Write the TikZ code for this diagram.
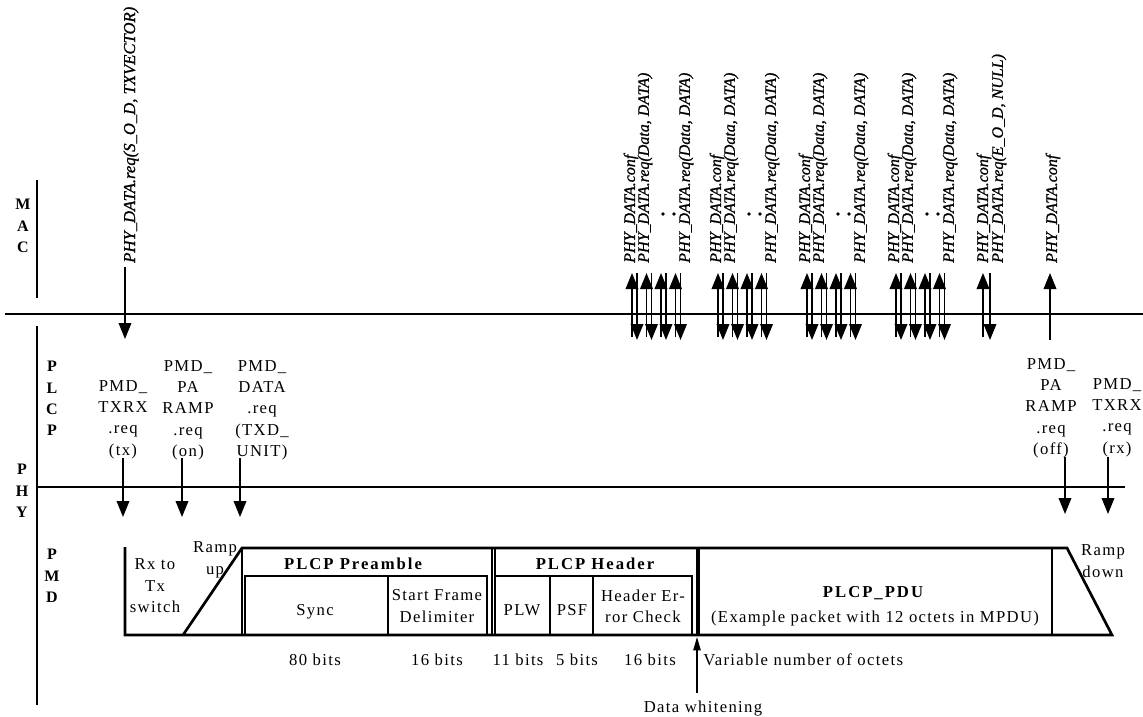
\documentclass[tikz,border=0pt]{standalone}
\usepackage{fontspec}
\setmainfont{Liberation Serif}
\newfontfamily\rmsp{Liberation Serif}[LetterSpace=8]
\newfontfamily\bfsp{Liberation Serif Bold}[LetterSpace=12]
\newfontfamily\itlab{Liberation Serif Italic}[FakeBold=1]
\newfontfamily\laybf{Liberation Serif Bold}
\usetikzlibrary{arrows.meta}
\tikzset{
  lay/.style={font=\laybf\fontsize{12}{16}\selectfont, align=center, inner sep=0pt, anchor=north},
  txt/.style={font=\rmsp\fontsize{12.5}{16}\selectfont, align=center, inner sep=0pt},
  ttl/.style={font=\bfsp\fontsize{12.5}{16}\selectfont, inner sep=0pt, anchor=base},
  vlab/.style={font=\itlab\fontsize{12}{14}\selectfont, rotate=90, anchor=west, inner sep=0pt},
  arr/.style={line width=1.1pt, -{Triangle[length=12pt,width=9.5pt]}},
  warr/.style={line width=1.1pt, -{Triangle[length=10pt,width=5.5pt]}},
  frame/.style={line width=2pt, line join=miter},
  fine/.style={line width=1.1pt},
  sep/.style={line width=1.6pt}
}
\begin{document}
\begin{tikzpicture}[x=0.75pt,y=-0.75pt]
\useasboundingbox (0,0) rectangle (1143,717);

% layer boundary lines
\coordinate (macL) at (5,314);   \coordinate (macR) at (1143,314);
\coordinate (pmdL) at (37,487);  \coordinate (pmdR) at (1125,487);
\coordinate (v1t) at (37,180);   \coordinate (v1b) at (37,298);
\coordinate (v2t) at (37,326);   \coordinate (v2b) at (37,705);
\draw[line width=2.2pt] (macL) -- (macR);
\draw[sep] (pmdL) -- (pmdR);
\draw[sep] (v1t) -- (v1b);
\draw[sep] (v2t) -- (v2b);

% layer letters
\node[lay] (mac) at (23,199) {M\\A\\C};
\node[lay] (plcp) at (52,361) {P\\L\\C\\P};
\node[lay] (phy) at (22,464) {P\\H\\Y};
\node[lay] (pmd) at (52,549) {P\\M\\D};

% first MAC request
\node[vlab, font=\itlab\fontsize{12.5}{14}\selectfont] (req0) at (131,263) {PHY\_DATA.req(S\_O\_D, TXVECTOR)};
\coordinate (a0s) at (125,267); \coordinate (a0e) at (125,339);
\draw[arr] (a0s) -- (a0e);

% clusters of data requests / confirms
\foreach \g/\u in {1/632, 2/718, 3/807, 4/896} {
  \foreach \k in {0,1,2,3} {
    \pgfmathsetmacro\xu{\u+14.5*\k}
    \pgfmathsetmacro\xd{\u+5+14.5*\k}
    \coordinate (u\g\k s) at (\xu,337); \coordinate (u\g\k e) at (\xu,273);
    \coordinate (d\g\k s) at (\xd,273); \coordinate (d\g\k e) at (\xd,340);
    \draw[arr] (u\g\k s) -- (u\g\k e);
    \draw[arr] (d\g\k s) -- (d\g\k e);
  }
  \node[vlab] (c\g) at (\u-1,263) {PHY\_DATA.conf};
  \node[vlab] (r\g) at (\u+13,263) {PHY\_DATA.req(Data, DATA)};
  \node[vlab] (l\g) at (\u+54,263) {PHY\_DATA.req(Data, DATA)};
  \fill (\u+31,214) circle (1.4pt);
  \fill (\u+42,214) circle (1.4pt);
}
% end of data
\coordinate (u5s) at (983,337); \coordinate (u5e) at (983,273);
\coordinate (d5s) at (990,273); \coordinate (d5e) at (990,340);
\draw[arr] (u5s) -- (u5e);
\draw[arr] (d5s) -- (d5e);
\node[vlab] (c5) at (984,263) {PHY\_DATA.conf};
\node[vlab] (r5) at (999,263) {PHY\_DATA.req(E\_O\_D, NULL)};
\coordinate (u6s) at (1050,340); \coordinate (u6e) at (1050,273);
\draw[arr] (u6s) -- (u6e);
\node[vlab] (c6) at (1053,263) {PHY\_DATA.conf};

% PLCP -> PMD primitives
\node[txt, anchor=north] (pA) at (123,380) {PMD\_\\TXRX\\.req\\(tx)};
\node[txt, anchor=north] (pB) at (188,360) {PMD\_\\PA\\RAMP\\.req\\(on)};
\node[txt, anchor=north] (pC) at (262,360) {PMD\_\\DATA\\.req\\(TXD\_\\UNIT)};
\node[txt, anchor=north] (pD) at (1051,358) {PMD\_\\PA\\RAMP\\.req\\(off)};
\node[txt, anchor=north] (pE) at (1117,378) {PMD\_\\TXRX\\.req\\(rx)};
\coordinate (aAs) at (123,458); \coordinate (aAe) at (123,517);
\coordinate (aBs) at (182,458); \coordinate (aBe) at (182,517);
\coordinate (aCs) at (240,458); \coordinate (aCe) at (240,517);
\coordinate (aDs) at (1065,457); \coordinate (aDe) at (1065,514);
\coordinate (aEs) at (1108,457); \coordinate (aEe) at (1108,514);
\foreach \n in {A,B,C,D,E} { \draw[arr] (a\n s) -- (a\n e); }

% frame outline
\draw[frame] (125,547) -- (125,635) -- (1112,635) -- (1067,548) -- (242,548) -- (183,635);
% preamble
\draw[frame] (242,548) rectangle (492,635);
\draw[fine] (245,576) rectangle (487,635);
\draw[fine] (388,576) -- (388,635);
% header
\draw[frame] (495,548) rectangle (697,635);
\draw[fine] (495,576) rectangle (692,635);
\draw[fine] (550,576) -- (550,635);
\draw[fine] (593,576) -- (593,635);
% PDU
\draw[frame] (699,548) rectangle (1052,635);

% frame texts
\node[txt, anchor=north] (rxtx) at (155,558.5) {Rx to\\Tx\\switch};
\node[txt, anchor=north] (rampu) at (215,541.5) {Ramp\\up};
\node[ttl] (pre) at (353,569.5) {PLCP Preamble};
\node[txt, anchor=base] (sync) at (315,615) {Sync};
\node[txt, anchor=north] (sfd) at (437,589.5) {Start Frame\\Delimiter};
\node[ttl] (hdr) at (595,569.5) {PLCP Header};
\node[txt, anchor=base] (plw) at (522,615) {PLW};
\node[txt, anchor=base] (psf) at (572,615) {PSF};
\node[txt, anchor=north] (hec) at (643,589.5) {Header Er-\\ror Check};
\node[ttl] (pdu) at (873,597.5) {PLCP\_PDU};
\node[txt, anchor=base] (ex) at (875,622) {(Example packet with 12 octets in MPDU)};
\node[txt, anchor=north] (rampd) at (1103,544.5) {Ramp\\down};

% bit counts
\node[txt, anchor=base] (b1) at (315,665.5) {80 bits};
\node[txt, anchor=base] (b2) at (437,665.5) {16 bits};
\node[txt, anchor=base] (b3) at (518,665.5) {11 bits};
\node[txt, anchor=base] (b4) at (577,665.5) {5 bits};
\node[txt, anchor=base] (b5) at (650,665.5) {16 bits};
\node[txt, anchor=base west] (var) at (703,665.5) {Variable number of octets};

% data whitening
\node[txt, anchor=base] (dw) at (703,712) {Data whitening};
\coordinate (dws) at (697,693); \coordinate (dwe) at (697,637);
\draw[warr] (dws) -- (dwe);
\end{tikzpicture}
\end{document}
